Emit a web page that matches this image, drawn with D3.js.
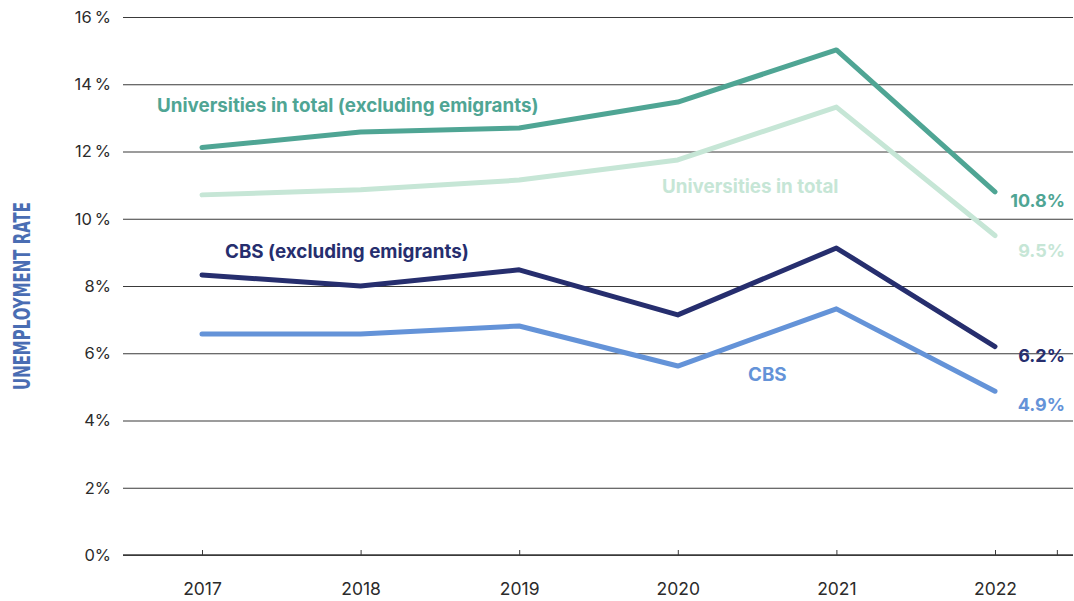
<!DOCTYPE html>
<html>
<head>
<meta charset="utf-8">
<script src="https://cdn.jsdelivr.net/npm/d3@7"></script>
<style>
  body { margin: 0; background: #fff; }
  svg { display: block; font-family: Inter, "Noto Sans", sans-serif; }
  .series-label { font-weight: 700; font-size: 18.8px; }
  .end-label { font-weight: 700; font-size: 18px; text-anchor: end; }
</style>
</head>
<body>
<div id="chart"></div>
<script>
const years = [2017, 2018, 2019, 2020, 2021, 2022];
const univExcl = [12.12, 12.58, 12.7, 13.47, 15.02, 10.8];
const univTotal = [10.71, 10.86, 11.15, 11.75, 13.32, 9.5];
const cbsExcl = [8.33, 8.0, 8.48, 7.14, 9.13, 6.2];
const cbs = [6.57, 6.57, 6.81, 5.62, 7.32, 4.87];
const yTicks = [0, 2, 4, 6, 8, 10, 12, 14, 16];
const extraTick = 2022.39;

const WIDTH = 1074;
const HEIGHT = 601;
const LEFT = 123;
const RIGHT = 1073;
const TOP = 17;
const BOTTOM = 555;

const svg = d3.select("#chart")
    .append("svg")
    .attr("width", WIDTH)
    .attr("height", HEIGHT);

let x = d3.scaleLinear()
    .domain([2017, 2022])
    .range([202, 995]);

let y = d3.scaleLinear()
    .domain([0, 16])
    .range([BOTTOM, TOP]);

// gridlines + y labels
let yAxis = svg.append("g")
    .attr("transform", "translate(" + LEFT + ",0)")
    .call(d3.axisLeft(y)
        .tickValues(yTicks)
        .tickSize(-(RIGHT - LEFT))
        .tickPadding(12)
        .tickFormat(d => d >= 10 ? d + "\u2009%" : d + "%"));
yAxis.select(".domain").remove();
yAxis.selectAll("line").attr("stroke", "#3a3a3a").attr("stroke-width", 1.2);
yAxis.selectAll("text")
    .attr("fill", "#2b2b2b")
    .style("font-size", "16.5px")
    .style("font-family", "Inter, sans-serif");

// x axis
let xAxis = svg.append("g")
    .attr("transform", "translate(0," + BOTTOM + ")")
    .call(d3.axisBottom(x)
        .tickValues(years.concat([extraTick]))
        .tickSize(-5)
        .tickPadding(28)
        .tickFormat(d => years.includes(d) ? String(d) : ""));
xAxis.select(".domain")
    .attr("d", "M" + LEFT + ",0H" + RIGHT)
    .attr("stroke", "#3a3a3a")
    .attr("stroke-width", 1.5);
xAxis.selectAll("line").attr("stroke", "#3a3a3a");
xAxis.selectAll("text")
    .attr("fill", "#2b2b2b")
    .style("font-size", "17.5px")
    .style("font-family", "Inter, sans-serif");

// y axis title (condensed look via textLength)
svg.append("text")
    .attr("transform", "translate(30,296)rotate(-90)")
    .attr("text-anchor", "middle")
    .attr("fill", "#4a6db3")
    .attr("textLength", 188)
    .attr("lengthAdjust", "spacingAndGlyphs")
    .style("font-family", "'DejaVu Sans', sans-serif")
    .style("font-weight", "700")
    .style("font-size", "23px")
    .text("UNEMPLOYMENT RATE");

const series = [
    { name: "Universities in total", values: univTotal, color: "#c6e6d6", label: [662, 10.77], end: "9.5%", endY: 8.86 },
    { name: "CBS", values: cbs, color: "#6493d8", label: [748, 5.17], end: "4.9%", endY: 4.28 },
    { name: "CBS (excluding emigrants)", values: cbsExcl, color: "#262e6e", label: [225, 8.83], end: "6.2%", endY: 5.74 },
    { name: "Universities in total (excluding emigrants)", values: univExcl, color: "#4fa594", label: [157, 13.17], end: "10.8%", endY: 10.35 }
];

let line = d3.line()
    .x((d, i) => x(years[i]))
    .y(d => y(d));

svg.append("g")
    .selectAll("path")
    .data(series)
    .enter()
    .append("path")
    .attr("d", d => line(d.values))
    .attr("fill", "none")
    .attr("stroke", d => d.color)
    .attr("stroke-width", 5)
    .attr("stroke-linecap", "round")
    .attr("stroke-linejoin", "round");

svg.append("g")
    .selectAll("text")
    .data(series)
    .enter()
    .append("text")
    .classed("series-label", true)
    .attr("x", d => d.label[0])
    .attr("y", d => y(d.label[1]))
    .attr("fill", d => d.color)
    .text(d => d.name);

svg.append("g")
    .selectAll("text")
    .data(series)
    .enter()
    .append("text")
    .classed("end-label", true)
    .attr("x", 1065)
    .attr("y", d => y(d.endY))
    .attr("fill", d => d.color)
    .text(d => d.end);
</script>
</body>
</html>
